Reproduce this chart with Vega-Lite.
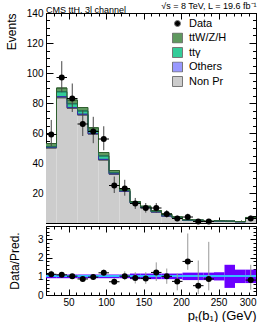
{
  "$schema": "https://vega.github.io/schema/vega-lite/v6.json",
  "padding": {"left": 4, "top": 1, "right": 0, "bottom": 0},
  "spacing": 0,
  "config": {
    "font": "Liberation Sans",
    "view": {"stroke": "black", "strokeWidth": 1},
    "axis": {"domain": false, "grid": false, "tickColor": "black", "tickWidth": 1, "labelColor": "black", "titleColor": "black", "labelFontSize": 10, "titleFontWeight": "normal", "labelFont": "Liberation Sans", "titleFont": "Liberation Sans"},
    "legend": {"labelFont": "Liberation Sans"},
    "title": {"font": "Liberation Sans"}
  },
  "datasets": {
    "bins": [
      {"lo": 20, "hi": 34, "c": 27, "nonpr": 50, "others": 0.4, "ttg": 0.4, "ttv": 2.2, "data": 59, "dlo": 51.3, "dhi": 68.7, "r": 1.11, "rlo": 0.97, "rhi": 1.3, "blo": 0.9, "bhi": 1.1},
      {"lo": 34, "hi": 48, "c": 41, "nonpr": 83.5, "others": 0.7, "ttg": 3.3, "ttv": 2.5, "data": 97, "dlo": 87.2, "dhi": 107.9, "r": 1.08, "rlo": 0.97, "rhi": 1.2, "blo": 0.9, "bhi": 1.1},
      {"lo": 48, "hi": 62, "c": 55, "nonpr": 76.5, "others": 0.5, "ttg": 2.5, "ttv": 2.5, "data": 83, "dlo": 74, "dhi": 93, "r": 1.01, "rlo": 0.9, "rhi": 1.13, "blo": 0.9, "bhi": 1.1},
      {"lo": 62, "hi": 76, "c": 69, "nonpr": 72, "others": 0.5, "ttg": 2.2, "ttv": 2.3, "data": 66, "dlo": 58, "dhi": 75, "r": 0.86, "rlo": 0.75, "rhi": 0.97, "blo": 0.9, "bhi": 1.1},
      {"lo": 76, "hi": 90, "c": 83, "nonpr": 59.3, "others": 0.3, "ttg": 1.7, "ttv": 2.2, "data": 61, "dlo": 53.2, "dhi": 70.8, "r": 0.96, "rlo": 0.84, "rhi": 1.11, "blo": 0.9, "bhi": 1.1},
      {"lo": 90, "hi": 104, "c": 97, "nonpr": 42, "others": 0.4, "ttg": 2.3, "ttv": 2.3, "data": 56, "dlo": 48.5, "dhi": 64.5, "r": 1.19, "rlo": 1.03, "rhi": 1.37, "blo": 0.9, "bhi": 1.1},
      {"lo": 104, "hi": 118, "c": 111, "nonpr": 32.5, "others": 0.3, "ttg": 0.7, "ttv": 1.5, "data": 25, "dlo": 20, "dhi": 31, "r": 0.71, "rlo": 0.57, "rhi": 0.89, "blo": 0.9, "bhi": 1.1},
      {"lo": 118, "hi": 132, "c": 125, "nonpr": 21, "others": 0.2, "ttg": 0.5, "ttv": 1.0, "data": 23, "dlo": 18.2, "dhi": 28.8, "r": 1.01, "rlo": 0.8, "rhi": 1.27, "blo": 0.9, "bhi": 1.1},
      {"lo": 132, "hi": 146, "c": 139, "nonpr": 13.3, "others": 0.1, "ttg": 0.3, "ttv": 0.6, "data": 13, "dlo": 9.4, "dhi": 16.7, "r": 0.91, "rlo": 0.62, "rhi": 1.22, "blo": 0.85, "bhi": 1.15},
      {"lo": 146, "hi": 160, "c": 153, "nonpr": 10.3, "others": 0.1, "ttg": 0.2, "ttv": 0.6, "data": 10, "dlo": 6.9, "dhi": 13.3, "r": 0.89, "rlo": 0.6, "rhi": 1.22, "blo": 0.85, "bhi": 1.15},
      {"lo": 160, "hi": 174, "c": 167, "nonpr": 7.3, "others": 0.1, "ttg": 0.3, "ttv": 0.6, "data": 10, "dlo": 6.9, "dhi": 13.3, "r": 1.21, "rlo": 0.75, "rhi": 1.75, "blo": 0.85, "bhi": 1.15},
      {"lo": 174, "hi": 188, "c": 181, "nonpr": 4.6, "others": 0.1, "ttg": 0.6, "ttv": 0.7, "data": 6, "dlo": 3.6, "dhi": 8.6, "r": 1.0, "rlo": 0.6, "rhi": 1.42, "blo": 0.85, "bhi": 1.15},
      {"lo": 188, "hi": 202, "c": 195, "nonpr": 3.4, "others": 0.1, "ttg": 0.2, "ttv": 0.4, "data": 3, "dlo": 1.3, "dhi": 4.9, "r": 0.73, "rlo": 0.25, "rhi": 1.15, "blo": 0.85, "bhi": 1.15},
      {"lo": 202, "hi": 216, "c": 209, "nonpr": 1.8, "others": 0.05, "ttg": 0.1, "ttv": 0.25, "data": 4, "dlo": 2, "dhi": 6.2, "r": 1.8, "rlo": 1.35, "rhi": 3.3, "blo": 0.8, "bhi": 1.2},
      {"lo": 216, "hi": 230, "c": 223, "nonpr": 1.7, "others": 0.05, "ttg": 0.05, "ttv": 0.2, "data": 1, "dlo": 0.2, "dhi": 2.3, "r": 0.5, "rlo": 0.05, "rhi": 1.85, "blo": 0.8, "bhi": 1.2},
      {"lo": 230, "hi": 244, "c": 237, "nonpr": 1.0, "others": 0.02, "ttg": 0.03, "ttv": 0.15, "data": 1, "dlo": 0.2, "dhi": 2.3, "r": 0.86, "rlo": 0.25, "rhi": 2.85, "blo": 0.8, "bhi": 1.2},
      {"lo": 244, "hi": 258, "c": 251, "nonpr": 1.3, "others": 0.02, "ttg": 0.03, "ttv": 0.15, "data": null, "dlo": null, "dhi": null, "r": null, "rlo": null, "rhi": null, "blo": 0.78, "bhi": 1.22},
      {"lo": 258, "hi": 272, "c": 265, "nonpr": 1.1, "others": 0.02, "ttg": 0.03, "ttv": 0.15, "data": null, "dlo": null, "dhi": null, "r": null, "rlo": null, "rhi": null, "blo": 0.38, "bhi": 1.62},
      {"lo": 272, "hi": 286, "c": 279, "nonpr": 0.85, "others": 0.02, "ttg": 0.03, "ttv": 0.1, "data": null, "dlo": null, "dhi": null, "r": null, "rlo": null, "rhi": null, "blo": 0.64, "bhi": 1.36},
      {"lo": 286, "hi": 300, "c": 293, "nonpr": 3.4, "others": 0.05, "ttg": 0.05, "ttv": 0.2, "data": 3, "dlo": 1.3, "dhi": 4.9, "r": 0.8, "rlo": 0.28, "rhi": 1.62, "blo": 0.64, "bhi": 1.36}
    ]
  },
  "vconcat": [
    {
      "width": 210,
      "height": 210,
      "title": {"text": "CMS ttH, 3l channel", "anchor": "start", "frame": "group", "fontSize": 9, "fontWeight": "normal", "offset": -13},
      "data": {"name": "bins"},
      "layer": [
        {
          "transform": [
            {"fold": ["nonpr", "others", "ttg", "ttv"], "as": ["key", "value"]},
            {"stack": "value", "groupby": ["lo"], "sort": [{"field": "key", "order": "ascending"}], "as": ["v0", "v1"]}
          ],
          "mark": {"type": "rect"},
          "encoding": {
            "x": {"field": "lo", "type": "quantitative", "scale": {"domain": [20, 300], "nice": false, "zero": false},
              "axis": {"orient": "bottom", "values": [50, 100, 150, 200, 250, 300], "labels": false, "tickSize": -6, "title": null}},
            "x2": {"field": "hi"},
            "y": {"field": "v1", "type": "quantitative", "scale": {"domain": [0, 140], "nice": false},
              "axis": {"orient": "left", "values": [0, 20, 40, 60, 80, 100, 120, 140], "tickSize": -7, "labelPadding": 10, "labelExpr": "datum.value == 0 ? '' : datum.label", "title": "Events", "titleAnchor": "end", "titleFontSize": 12, "titlePadding": 8}},
            "y2": {"field": "v0"},
            "color": {"field": "key", "type": "nominal",
              "scale": {"domain": ["data", "ttv", "ttg", "others", "nonpr"], "range": ["black", "#5f995f", "#33cc99", "#9999ff", "#cccccc"]},
              "legend": {"orient": "none", "legendX": 126, "legendY": 5, "title": null, "labelFontSize": 11,
                "symbolSize": {"expr": "datum.value === 'data' ? 36 : 100"},
                "symbolType": {"expr": "datum.value === 'data' ? 'circle' : 'square'"},
                "symbolStrokeColor": "#777777", "symbolStrokeWidth": 1, "clipHeight": 11, "rowPadding": 2.5, "labelOffset": 6,
                "labelExpr": "datum.value == 'data' ? 'Data' : datum.value == 'ttv' ? 'ttW/Z/H' : datum.value == 'ttg' ? 'ttγ' : datum.value == 'others' ? 'Others' : 'Non Pr'"}}
          }
        },
        {
          "transform": [
            {"fold": ["nonpr", "others", "ttg", "ttv"], "as": ["key", "value"]},
            {"stack": "value", "groupby": ["lo"], "sort": [{"field": "key", "order": "ascending"}], "as": ["v0", "v1"]}
          ],
          "mark": {"type": "rule", "strokeWidth": 1},
          "encoding": {
            "x": {"field": "lo", "type": "quantitative", "axis": {"orient": "bottom", "values": [20, 30, 40, 50, 60, 70, 80, 90, 100, 110, 120, 130, 140, 150, 160, 170, 180, 190, 200, 210, 220, 230, 240, 250, 260, 270, 280, 290, 300], "labels": false, "tickSize": -3, "title": null}},
            "x2": {"field": "hi"},
            "y": {"field": "v1", "type": "quantitative", "axis": {"orient": "left", "values": [0, 5, 10, 15, 20, 25, 30, 35, 40, 45, 50, 55, 60, 65, 70, 75, 80, 85, 90, 95, 100, 105, 110, 115, 120, 125, 130, 135, 140], "labels": false, "tickSize": -3.5, "title": null}},
            "stroke": {"field": "key", "type": "nominal", "scale": {"domain": ["nonpr", "others", "ttg", "ttv"], "range": ["#555555", "#3333aa", "#1f6f55", "#2f5f2f"]}, "legend": null}
          }
        },
        {
          "transform": [
            {"fold": ["nonpr", "others", "ttg", "ttv"], "as": ["key", "value"]},
            {"stack": "value", "groupby": ["lo"], "sort": [{"field": "key", "order": "ascending"}], "as": ["v0", "v1"]}
          ],
          "mark": {"type": "line", "interpolate": "step-after", "strokeWidth": 1},
          "encoding": {
            "x": {"field": "lo", "type": "quantitative", "axis": {"orient": "top", "values": [50, 100, 150, 200, 250, 300], "labels": false, "tickSize": -6, "title": "√s = 8 TeV, L = 19.6 fb⁻¹", "titleAnchor": "end", "titleFontSize": 9, "titlePadding": 2}},
            "y": {"field": "v1", "type": "quantitative", "axis": {"orient": "right", "values": [0, 20, 40, 60, 80, 100, 120, 140], "labels": false, "tickSize": -7, "title": null}},
            "stroke": {"field": "key", "type": "nominal", "legend": null}
          }
        },
        {
          "mark": {"type": "rule", "color": "#444444", "strokeWidth": 1},
          "encoding": {
            "x": {"field": "c", "type": "quantitative", "axis": {"orient": "top", "values": [20, 30, 40, 50, 60, 70, 80, 90, 100, 110, 120, 130, 140, 150, 160, 170, 180, 190, 200, 210, 220, 230, 240, 250, 260, 270, 280, 290, 300], "labels": false, "tickSize": -3, "title": null}},
            "y": {"field": "dlo", "type": "quantitative", "axis": {"orient": "right", "values": [0, 5, 10, 15, 20, 25, 30, 35, 40, 45, 50, 55, 60, 65, 70, 75, 80, 85, 90, 95, 100, 105, 110, 115, 120, 125, 130, 135, 140], "labels": false, "tickSize": -3.5, "title": null}},
            "y2": {"field": "dhi"}
          }
        },
        {
          "mark": {"type": "rule", "color": "black", "strokeWidth": 1},
          "encoding": {
            "x": {"field": "lo", "type": "quantitative", "axis": null},
            "x2": {"field": "hi"},
            "y": {"field": "data", "type": "quantitative", "axis": null}
          }
        },
        {
          "mark": {"type": "circle", "size": 36, "color": "black", "opacity": 1},
          "encoding": {
            "x": {"field": "c", "type": "quantitative", "axis": null},
            "y": {"field": "data", "type": "quantitative", "axis": null}
          }
        }
      ],
      "resolve": {"axis": {"x": "independent", "y": "independent"}}
    },
    {
      "width": 210,
      "height": 69,
      "data": {"name": "bins"},
      "layer": [
        {
          "mark": {"type": "rect", "color": "#6a00ff"},
          "encoding": {
            "x": {"field": "lo", "type": "quantitative", "scale": {"domain": [20, 300], "nice": false, "zero": false},
              "axis": {"orient": "bottom", "values": [50, 100, 150, 200, 250, 300], "tickSize": -6, "labelPadding": 8, "title": "pₜ(b₁) (GeV)", "titleAnchor": "end", "titleFontSize": 13, "titlePadding": 2}},
            "x2": {"field": "hi"},
            "y": {"field": "blo", "type": "quantitative", "scale": {"domain": [0, 3.7], "nice": false},
              "axis": {"orient": "left", "values": [0, 1, 2, 3], "tickSize": -6, "labelPadding": 9, "title": "Data/Pred.", "titleFontSize": 12, "titlePadding": 16}},
            "y2": {"field": "bhi"}
          }
        },
        {
          "mark": {"type": "rule", "color": "#33bbff", "strokeWidth": 1.5},
          "encoding": {
            "y": {"datum": 1, "type": "quantitative", "axis": null}
          }
        },
        {
          "mark": {"type": "rule", "color": "#999999", "strokeWidth": 1},
          "encoding": {
            "x": {"field": "c", "type": "quantitative", "axis": {"orient": "bottom", "values": [20, 30, 40, 50, 60, 70, 80, 90, 100, 110, 120, 130, 140, 150, 160, 170, 180, 190, 200, 210, 220, 230, 240, 250, 260, 270, 280, 290, 300], "labels": false, "tickSize": -3, "title": null}},
            "y": {"field": "rlo", "type": "quantitative", "axis": {"orient": "left", "values": [0, 0.2, 0.4, 0.6, 0.8, 1, 1.2, 1.4, 1.6, 1.8, 2, 2.2, 2.4, 2.6, 2.8, 3, 3.2, 3.4, 3.6], "labels": false, "tickSize": -3, "title": null}},
            "y2": {"field": "rhi"}
          }
        },
        {
          "mark": {"type": "rule", "color": "black", "strokeWidth": 1},
          "encoding": {
            "x": {"field": "lo", "type": "quantitative", "axis": {"orient": "top", "values": [50, 100, 150, 200, 250, 300], "labels": false, "tickSize": -6, "title": null}},
            "x2": {"field": "hi"},
            "y": {"field": "r", "type": "quantitative", "axis": {"orient": "right", "values": [0, 1, 2, 3], "labels": false, "tickSize": -6, "title": null}}
          }
        },
        {
          "mark": {"type": "circle", "size": 36, "color": "black", "opacity": 1},
          "encoding": {
            "x": {"field": "c", "type": "quantitative", "axis": {"orient": "top", "values": [20, 30, 40, 50, 60, 70, 80, 90, 100, 110, 120, 130, 140, 150, 160, 170, 180, 190, 200, 210, 220, 230, 240, 250, 260, 270, 280, 290, 300], "labels": false, "tickSize": -3, "title": null}},
            "y": {"field": "r", "type": "quantitative", "axis": {"orient": "right", "values": [0, 0.2, 0.4, 0.6, 0.8, 1, 1.2, 1.4, 1.6, 1.8, 2, 2.2, 2.4, 2.6, 2.8, 3, 3.2, 3.4, 3.6], "labels": false, "tickSize": -3, "title": null}}
          }
        }
      ],
      "resolve": {"axis": {"x": "independent", "y": "independent"}}
    }
  ]
}
